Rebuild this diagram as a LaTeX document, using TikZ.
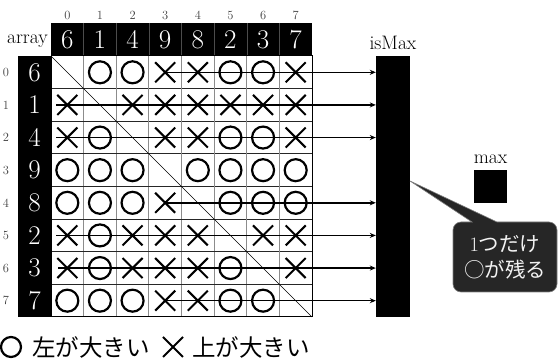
\documentclass[tikz,border=0pt]{standalone}
\usepackage{fontspec}
\newfontfamily\cjk{Noto Sans CJK JP}
\usetikzlibrary{arrows.meta}
\definecolor{callfill}{HTML}{262626}
\definecolor{calledge}{HTML}{7F7F7F}
\definecolor{calltext}{HTML}{F2F2F2}
\begin{document}
\begin{tikzpicture}[x=1pt,y=-1pt,
  hdr/.style={fill=black,text=white,minimum width=32.625pt,minimum height=32.625pt,inner sep=0pt,font=\fontsize{27}{27}\selectfont},
  cellbox/.style={minimum width=32.625pt,minimum height=32.625pt,inner sep=0pt},
  idx/.style={inner sep=0pt,font=\fontsize{12.5}{12.5}\selectfont,text=black!75},
  lbl/.style={inner sep=0pt,font=\fontsize{19.5}{19.5}\selectfont},
  omark/.style={line width=2.2pt},
  xmark/.style={line width=2pt},
  vline/.style={draw=black!45,line width=1pt},
  hline/.style={draw=black!85,line width=0.9pt},
  arr/.style={line width=1.4pt,-{Stealth[length=6pt,width=5pt]}},
  callout/.style={fill=callfill,draw=calledge,line width=0.6pt},
  jp/.style={inner sep=0pt,font=\cjk\fontsize{23.5}{23.5}\selectfont},
  jpc/.style={inner sep=0pt,text=calltext,font=\fontsize{20.5}{20.5}\selectfont,align=center}
]
\useasboundingbox (0,0) rectangle (558,363);

% header row and index labels
\foreach \v [count=\j from 0] in {6,1,4,9,8,2,3,7}{
  \node[hdr] (h\j) at ({51+32.625*\j+16.3125},39.6) {\v};
  \node[idx] (ci\j) at ({51+32.625*\j+16.3125},15) {\j};
  \node[hdr] (r\j) at (34.5,{56+32.625*\j+16.3125}) {\v};
  \node[idx] (ri\j) at (6,{56+32.625*\j+16.3125}) {\j};
}
\foreach \j in {1,...,7}{
  \draw[draw=black!70,line width=0.5pt] ({51+32.625*\j},23) -- ({51+32.625*\j},56);
}
\node[lbl,anchor=east] (arraylbl) at (48,41) {array};

% grid lines
\foreach \k in {1,...,7}{
  \draw[vline] ({51+32.625*\k},56) -- ({51+32.625*\k},317);
  \draw[hline] (51,{56+32.625*\k}) -- (312,{56+32.625*\k});
}
\draw[line width=1pt] (51,56) rectangle (312,317);
\draw[line width=0.7pt] (51,56) -- (312,317);

% cells
\foreach \ai [count=\i from 0] in {6,1,4,9,8,2,3,7}{
  \foreach \aj [count=\j from 0] in {6,1,4,9,8,2,3,7}{
    \node[cellbox] (c-\i-\j) at ({51+32.625*\j+16.3125},{56+32.625*\i+16.3125}) {};
    \ifnum\ai>\aj
      \draw[omark] (c-\i-\j.center) circle[radius=11];
    \else\ifnum\ai<\aj
      \draw[xmark] (c-\i-\j.center) +(-10,-10) -- +(10,10) +(-10,10) -- +(10,-10);
    \fi\fi
  }
}

% isMax and max
\node[fill=black,minimum width=34pt,minimum height=261pt,inner sep=0pt] (ismax) at (393,186.5) {};
\node[lbl,anchor=south] (ismaxlbl) at (393,50) {isMax};
\node[fill=black,minimum width=33pt,minimum height=33pt,inner sep=0pt] (max) at (490.5,186.5) {};
\node[lbl,anchor=south] (maxlbl) at (490.5,164) {max};

% arrows
\coordinate (s0) at (166,{56+16.3125});
\coordinate (s1) at (56,{56+32.625+16.3125});
\coordinate (s2) at (56,{56+32.625*2+16.3125});
\coordinate (s4) at (166,{56+32.625*4+16.3125});
\coordinate (s5) at (56,{56+32.625*5+16.3125});
\coordinate (s6) at (58,{56+32.625*6+16.3125});
\coordinate (s7) at (164,{56+32.625*7+16.3125});
\foreach \r in {0,1,2,4,5,6,7}{
  \draw[arr] (s\r) -- (s\r -| ismax.west);
}

% callout
\coordinate (tip) at (410,181);
\path[callout] (472,222) -- (tip) -- (497,222) [rounded corners=8pt] -- (557,222) -- (557,292) -- (453,292) -- (453,222) [sharp corners] -- cycle;
\node[jpc] (note) at (505,257.5) {1{\cjk つだけ}\\[5pt]{\cjk ○が残る}};

% legend
\node[inner sep=0pt,minimum size=22pt] (lego) at (11,347) {};
\draw[omark] (lego.center) circle[radius=10];
\node[jp,anchor=west] (legotext) at (32,347) {左が大きい};
\node[inner sep=0pt,minimum size=22pt] (legx) at (173,347) {};
\draw[xmark] (legx.center) +(-10,-10) -- +(10,10) +(-10,10) -- +(10,-10);
\node[jp,anchor=west] (legxtext) at (192,347) {上が大きい};
\end{tikzpicture}
\end{document}
